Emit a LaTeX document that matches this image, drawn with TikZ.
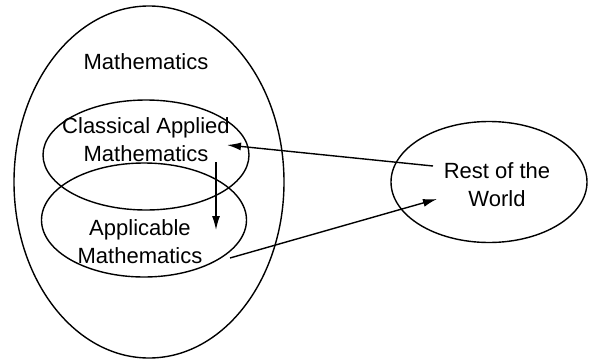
\documentclass[tikz,border=0pt]{standalone}
\usepackage{fontspec}
\setmainfont{Liberation Sans}
\usetikzlibrary{shapes.geometric,arrows.meta}
\begin{document}
\begin{tikzpicture}[x=1pt,y=-1pt,
  oval/.style={ellipse,draw,line width=1.4pt,inner sep=0pt},
  lbl/.style={align=center,font=\fontsize{22}{28}\selectfont,inner sep=0pt},
  conn/.style={line width=1.4pt,-{Latex[length=14pt,width=8pt]}}]
\useasboundingbox (0,0) rectangle (589,364);
\node[oval,minimum width=270pt,minimum height=352pt] (math) at (149,182) {};
\node[oval,minimum width=206pt,minimum height=110pt] (cam) at (146,155) {};
\node[oval,minimum width=205pt,minimum height=114pt] (am) at (144,220) {};
\node[oval,minimum width=196pt,minimum height=121pt] (rw) at (489,182) {};
\node[lbl] (mathT) at (146,62) {Mathematics};
\node[lbl] (camT) at (146,140) {Classical Applied\\Mathematics};
\node[lbl] (amT) at (140,242) {Applicable\\Mathematics};
\node[lbl] (rwT) at (497,185) {Rest of the\\World};
\coordinate (a1s) at (433,166);
\coordinate (a1e) at (227,145);
\coordinate (a2s) at (230,258);
\coordinate (a2e) at (437,199);
\coordinate (a3s) at (216,162);
\coordinate (a3e) at (216,230);
\draw[conn] (a1s) -- (a1e);
\draw[conn] (a2s) -- (a2e);
\draw[conn] (a3s) -- (a3e);
\end{tikzpicture}
\end{document}
